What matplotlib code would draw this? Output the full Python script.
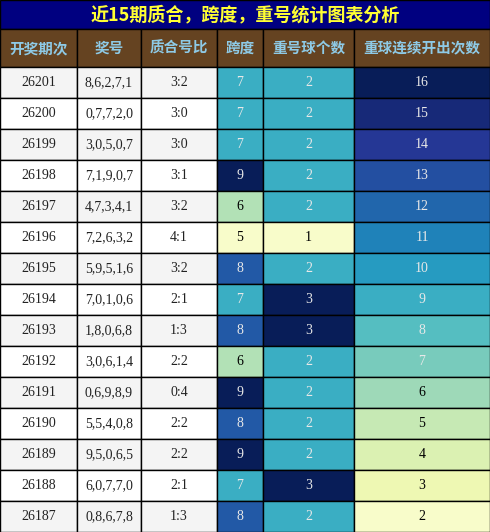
import matplotlib
matplotlib.use("Agg")
import matplotlib.pyplot as plt
import matplotlib.colors as mcolors
from matplotlib.patches import Rectangle

issues  = ["26201", "26200", "26199", "26198", "26197", "26196", "26195", "26194",
           "26193", "26192", "26191", "26190", "26189", "26188", "26187"]
numbers = ["8,6,2,7,1", "0,7,7,2,0", "3,0,5,0,7", "7,1,9,0,7", "4,7,3,4,1", "7,2,6,3,2",
           "5,9,5,1,6", "7,0,1,0,6", "1,8,0,6,8", "3,0,6,1,4", "0,6,9,8,9", "5,5,4,0,8",
           "9,5,0,6,5", "6,0,7,7,0", "0,8,6,7,8"]
ratios  = ["3:2", "3:0", "3:0", "3:1", "3:2", "4:1", "3:2", "2:1", "1:3", "2:2", "0:4",
           "2:2", "2:2", "2:1", "1:3"]
spans   = [7, 7, 7, 9, 6, 5, 8, 7, 8, 6, 9, 8, 9, 7, 8]
repeats = [2, 2, 2, 2, 2, 1, 2, 3, 3, 2, 2, 2, 2, 3, 2]
streaks = [16, 15, 14, 13, 12, 11, 10, 9, 8, 7, 6, 5, 4, 3, 2]
headers = ["开奖期次", "奖号", "质合号比", "跨度", "重号球个数", "重球连续开出次数"]
title = "近15期质合，跨度，重号统计图表分析"

W, H = 490, 532
col_x = [0, 77, 141, 217, 263, 354, 490]
title_h, head_h = 29, 38
row_h = (H - title_h - head_h) / len(issues)
cjk = ["Noto Sans CJK SC", "DejaVu Sans"]
serif = "Liberation Serif"
cmap = plt.get_cmap("YlGnBu")

fig = plt.figure(figsize=(W / 100, H / 100), dpi=100)
ax = fig.add_axes([0, 0, 1, 1])
ax.set_xlim(0, W)
ax.set_ylim(H, 0)
ax.axis("off")

def cell(x0, x1, y0, h, fc, txt, tc, **kw):
    ax.add_patch(Rectangle((x0, y0), x1 - x0, h, facecolor=fc, edgecolor="black", lw=1))
    ax.text((x0 + x1) / 2, y0 + h / 2, txt, ha="center", va="center", color=tc, **kw)

cell(0, W, 0, title_h, "#000080", title, "#ffff33", fontsize=13, fontweight="bold", family=cjk)
for i, hd in enumerate(headers):
    cell(col_x[i], col_x[i + 1], title_h, head_h, "#654321", hd, "#8ecae6",
         fontsize=10.5, fontweight="bold", family=cjk)

def heat(v, lo, hi):
    t = (v - lo) / (hi - lo)
    return cmap(0.05 + 0.95 * t), ("white" if t > 0.35 else "black")

for r in range(len(issues)):
    y = title_h + head_h + r * row_h
    bg = "#f4f4f4" if r % 2 == 0 else "white"
    for i, txt in enumerate([issues[r], numbers[r], ratios[r]]):
        cell(col_x[i], col_x[i + 1], y, row_h, bg, txt, "#222222", fontsize=10, family=serif)
    for i, (v, lo, hi) in enumerate([(spans[r], 5, 9), (repeats[r], 1, 3), (streaks[r], 2, 16)]):
        fc, tc = heat(v, lo, hi)
        if tc == "white":
            tc = "#e8e8e8"
        cell(col_x[i + 3], col_x[i + 4], y, row_h, fc, str(v), tc, fontsize=10, family=serif)

fig.savefig("out.png", dpi=100)
